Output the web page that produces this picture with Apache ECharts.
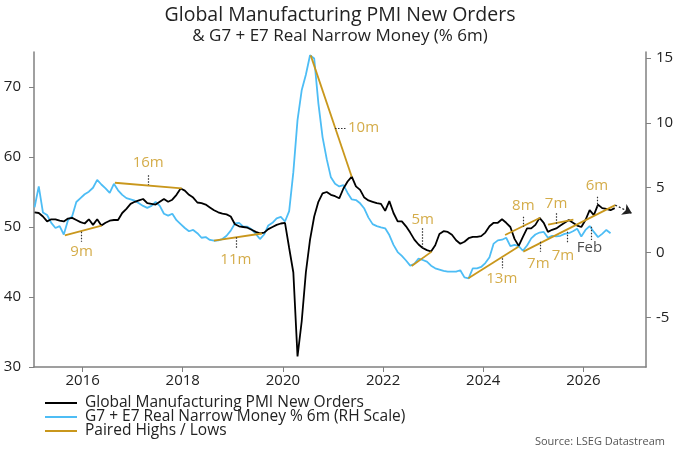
<!DOCTYPE html>
<html lang="en">
<head>
  <meta charset="UTF-8">
  <title>Global Manufacturing PMI New Orders</title>
  <style>
    html, body { margin: 0; padding: 0; background: #fff; }
    #chart { width: 680px; height: 455px; }
  </style>
</head>
<body>
  <div id="chart"></div>

  <script src="https://cdn.jsdelivr.net/npm/echarts@6/dist/echarts.min.js"></script>
  <script>
    // Monthly data from Jan 2015
    var startYear = 2015;

    var pmiNewOrders = [
      52.1, 52.0, 51.5, 50.8, 51.1, 51.1, 50.9, 50.8, 51.2, 51.3, 51.0, 50.7,
      50.5, 51.1, 50.3, 51.1, 50.2, 50.6, 50.9, 51.0, 51.0, 52.0, 52.6, 53.3,
      53.6, 53.8, 54.0, 53.4, 53.3, 53.2, 53.6, 54.0, 53.6, 53.9, 54.6, 55.5,
      55.2, 54.6, 54.2, 53.5, 53.4, 53.2, 52.8, 52.4, 52.1, 51.9, 51.8, 51.5,
      50.4, 50.1, 50.0, 49.9, 49.6, 49.3, 49.1, 49.2, 49.7, 50.0, 50.3, 50.5,
      50.6, 47.0, 43.5, 31.5, 36.5, 43.5, 48.2, 51.5, 53.6, 54.8, 55.0, 54.6,
      54.4, 54.1, 55.5, 56.5, 57.2, 55.8, 55.3, 54.2, 53.8, 53.6, 53.4, 53.3,
      52.3, 53.7, 52.0, 50.8, 50.8, 50.1, 49.2, 48.2, 47.5, 47.0, 46.7, 46.5,
      47.4, 49.0, 49.4, 49.3, 48.9, 48.1, 47.6, 47.9, 48.4, 48.6, 48.6, 48.7,
      49.2, 50.1, 50.6, 50.6, 51.1, 50.6, 50.0, 48.3, 47.3, 48.6, 49.8, 49.8,
      50.3, 51.3, 50.6, 49.3, 49.6, 49.8, 50.2, 50.6, 51.0, 50.6, 50.2, 50.0,
      51.0, 52.4, 51.7, 53.2, 52.7, 52.6, 52.4, 52.7
    ];

    var realNarrowMoney = [
      3.5, 5.1, 3.1, 2.9, 2.3, 1.9, 2.05, 1.4, 2.5, 2.8, 3.9, 4.2,
      4.5, 4.7, 5.0, 5.6, 5.25, 4.95, 4.6, 5.3, 4.8, 4.45, 4.2, 4.1,
      4.0, 3.8, 3.6, 3.45, 3.6, 3.9, 3.6, 3.0, 2.85, 3.0, 2.5, 2.2,
      1.9, 1.65, 1.75, 1.5, 1.15, 1.2, 0.98, 0.92, 0.95, 1.05, 1.3, 1.7,
      2.25, 2.3, 2.0, 2.0, 1.8, 1.45, 1.05, 1.4, 2.1, 2.3, 2.65, 2.75,
      2.4, 3.2, 6.2, 10.2, 12.5, 13.7, 15.2, 14.95, 11.5, 8.9, 7.2, 5.8,
      5.3, 5.1, 5.2, 4.6, 4.1, 4.05, 3.8, 3.4, 2.7, 2.2, 2.05, 1.95,
      1.88, 1.36, 0.6, 0.05, -0.25, -0.6, -1.0, -0.85, -0.45, -0.56, -0.69, -1.0,
      -1.2, -1.3, -1.4, -1.46, -1.46, -1.46, -1.35, -1.9, -1.97, -1.2, -1.2, -1.1,
      -0.8, -0.35, 0.7, 0.95, 1.0, 1.15, 0.5, 0.6, 0.5, 0.15, 0.55, 1.1,
      1.4, 1.55, 1.6, 1.15, 1.3, 1.25, 1.3, 1.45, 1.5, 1.65, 1.85, 1.25,
      1.75, 2.05, 1.6, 1.2, 1.45, 1.75, 1.5
    ];

    // Paired highs / lows, endpoints as [year, PMI-scale value]
    var pairedSegments = [
      [[2015.646, 48.82], [2016.380, 50.19]],   // 9m
      [[2016.645, 56.32], [2017.980, 55.52]],   // 16m
      [[2018.623, 48.05], [2019.582, 49.07]],   // 11m
      [[2020.555, 74.52], [2021.374, 57.17]],   // 10m
      [[2022.570, 44.44], [2022.970, 46.48]],   // 5m
      [[2023.703, 42.69], [2024.702, 47.19]],   // 13m
      [[2024.436, 48.86], [2025.136, 51.33]],   // 8m
      [[2025.295, 50.35], [2025.800, 51.07]],   // 7m
      [[2024.800, 46.48], [2026.636, 53.13]]    // 7m / 7m / 6m
    ];

    var projection = [[2026.636, 53.13], [2026.967, 51.95]];

    // dotted lead markers
    var leadTicks = [
      [[2015.98, 49.33], [2015.98, 47.90]],
      [[2017.31, 57.41], [2017.31, 55.99]],
      [[2019.06, 48.53], [2019.06, 46.82]],
      [[2021.04, 64.07], [2021.26, 64.07]],
      [[2022.79, 49.81], [2022.79, 46.96]],
      [[2024.37, 45.54], [2024.37, 44.11]],
      [[2024.80, 51.47], [2024.80, 50.04]],
      [[2025.455, 51.95], [2025.455, 50.28]],
      [[2025.135, 47.90], [2025.135, 46.48]],
      [[2025.67, 49.33], [2025.67, 47.68]],
      [[2026.15, 50.04], [2026.15, 48.15]],
      [[2026.28, 54.32], [2026.28, 52.67]]
    ];

    var leadLabels = [
      [2015.98, 46.44, '9m'],
      [2017.31, 59.17, '16m'],
      [2019.06, 45.30, '11m'],
      [2021.61, 64.11, '10m'],
      [2022.79, 51.10, '5m'],
      [2024.37, 42.59, '13m'],
      [2024.80, 53.04, '8m'],
      [2025.455, 53.38, '7m'],
      [2025.10, 44.73, '7m'],
      [2025.59, 45.87, '7m'],
      [2026.27, 55.85, '6m']
    ];
    var dateLabels = [[2026.12, 47.05, 'Feb']];

    var yearTicks = [2016, 2018, 2020, 2022, 2024, 2026];
    var leftTicks = [30, 40, 50, 60, 70];
    var rightTicks = [-5, 0, 5, 10, 15];

    var black = '#000000';
    var blue = '#4dbdf5';
    var gold = '#c9971c';
    var axisGrey = '#808080';
    var font = '"Open Sans", "Noto Sans", sans-serif';

    function monthPos(i) {
      return startYear + (i + 0.5) / 12;
    }

    var chart = echarts.init(document.getElementById('chart'));

    var option = {
      animation: false,
      textStyle: { fontFamily: font },
      title: [
        {
          text: 'Global Manufacturing PMI New Orders',
          subtext: '& G7 + E7 Real Narrow Money (% 6m)',
          left: 'center',
          top: 0,
          itemGap: 3,
          textStyle: { fontSize: 19.5, fontWeight: 'normal', color: '#222', fontFamily: font },
          subtextStyle: { fontSize: 17, color: '#222', fontFamily: font }
        },
        {
          text: 'Source: LSEG Datastream',
          right: 10,
          bottom: 3,
          textStyle: { fontSize: 11, fontWeight: 'normal', color: '#555', fontFamily: font }
        }
      ],
      legend: {
        orient: 'vertical',
        left: 40,
        top: 390,
        itemWidth: 32,
        itemHeight: 2,
        itemGap: -2,
        icon: 'rect',
        textStyle: { fontSize: 15.5, lineHeight: 14, color: '#222', fontFamily: font, padding: [0, 0, 0, 3] },
        data: [
          { name: 'Global Manufacturing PMI New Orders', itemStyle: { color: black, borderWidth: 0 } },
          { name: 'G7 + E7 Real Narrow Money % 6m (RH Scale)', itemStyle: { color: blue, borderWidth: 0 } },
          { name: 'Paired Highs / Lows', itemStyle: { color: gold, borderWidth: 0 } }
        ]
      },
      grid: { left: 34, right: 34, top: 52, bottom: 88 },
      xAxis: {
        type: 'value',
        min: 2015.03,
        max: 2027.25,
        splitLine: { show: false },
        axisLine: { show: true, onZero: false, lineStyle: { color: axisGrey, width: 1.5 } },
        axisTick: { show: true, length: 5, customValues: yearTicks, lineStyle: { color: axisGrey } },
        axisLabel: {
          customValues: yearTicks,
          margin: 6,
          fontSize: 15,
          color: '#222',
          formatter: function (v) { return String(v); }
        }
      },
      yAxis: [
        {
          type: 'value',
          position: 'left',
          min: 30,
          max: 75,
          splitLine: { show: false },
          axisLine: { show: true, onZero: false, lineStyle: { color: axisGrey, width: 1.5 } },
          axisTick: { show: true, length: 5, customValues: leftTicks, lineStyle: { color: axisGrey } },
          axisLabel: { customValues: leftTicks, margin: 13, fontSize: 15, color: '#222' }
        },
        {
          type: 'value',
          position: 'right',
          min: -8.8,
          max: 15.45,
          splitLine: { show: false },
          axisLine: { show: true, onZero: false, lineStyle: { color: axisGrey, width: 1.5 } },
          axisTick: { show: true, length: 5, customValues: rightTicks, lineStyle: { color: axisGrey } },
          axisLabel: { customValues: rightTicks, margin: 10, fontSize: 15, color: '#222' }
        }
      ],
      series: [
        {
          name: 'G7 + E7 Real Narrow Money % 6m (RH Scale)',
          type: 'line',
          yAxisIndex: 1,
          showSymbol: false,
          data: realNarrowMoney.map(function (v, i) { return [monthPos(i), v]; }),
          lineStyle: { color: blue, width: 1.8 },
          itemStyle: { color: blue },
          z: 2
        },
        {
          name: 'Global Manufacturing PMI New Orders',
          type: 'line',
          yAxisIndex: 0,
          showSymbol: false,
          data: pmiNewOrders.map(function (v, i) { return [monthPos(i), v]; }),
          lineStyle: { color: black, width: 1.8 },
          itemStyle: { color: black },
          z: 3
        },
        {
          name: 'Paired Highs / Lows',
          type: 'lines',
          coordinateSystem: 'cartesian2d',
          xAxisIndex: 0,
          yAxisIndex: 0,
          data: pairedSegments.map(function (s) { return { coords: s }; }),
          lineStyle: { color: gold, width: 1.8, opacity: 1, curveness: 0 },
          z: 4
        },
        {
          type: 'lines',
          coordinateSystem: 'cartesian2d',
          xAxisIndex: 0,
          yAxisIndex: 0,
          data: leadTicks.map(function (s) { return { coords: s }; }),
          lineStyle: { color: '#333', width: 1.2, type: [1.5, 1.5], opacity: 1 },
          z: 5
        },
        {
          type: 'lines',
          coordinateSystem: 'cartesian2d',
          xAxisIndex: 0,
          yAxisIndex: 0,
          symbol: ['none', 'arrow'],
          symbolSize: 9,
          data: [{ coords: projection }],
          lineStyle: { color: '#222', width: 1.2, type: [2, 2], opacity: 1 },
          z: 5
        },
        {
          type: 'scatter',
          yAxisIndex: 0,
          symbolSize: 0,
          silent: true,
          data: leadLabels,
          label: {
            show: true,
            position: 'inside',
            formatter: function (p) { return p.data[2]; },
            color: gold,
            fontSize: 15,
            fontFamily: font
          },
          z: 6
        },
        {
          type: 'scatter',
          yAxisIndex: 0,
          symbolSize: 0,
          silent: true,
          data: dateLabels,
          label: {
            show: true,
            position: 'inside',
            formatter: function (p) { return p.data[2]; },
            color: '#222',
            fontSize: 15,
            fontFamily: font
          },
          z: 6
        }
      ]
    };

    chart.setOption(option);
  </script>
</body>
</html>
